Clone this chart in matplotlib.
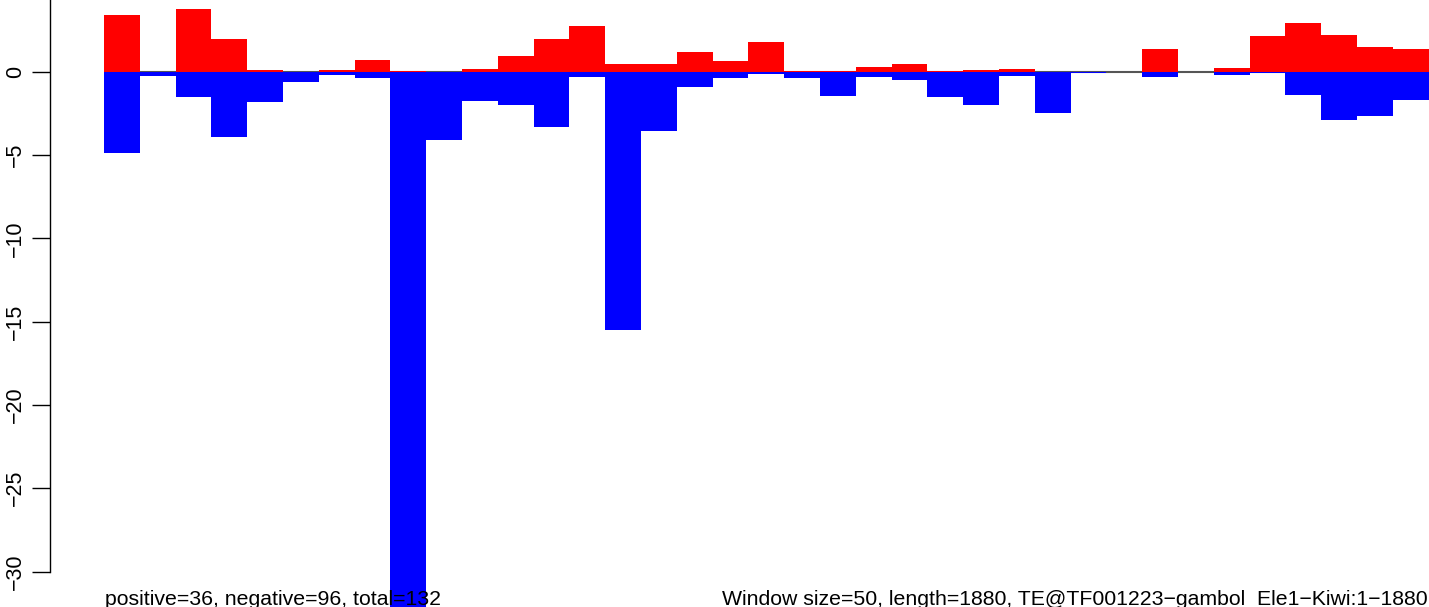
#%% imports

import numpy as np
import matplotlib.pyplot as plt

#%% data (per 50bp window)

windows = np.arange(37)
positive = [3.42, 0.0, 3.78, 1.98, 0.12, 0.0, 0.12, 0.72, 0.06, 0.0,
            0.18, 0.96, 1.98, 2.76, 0.48, 0.48, 1.20, 0.66, 1.80, 0.08,
            0.08, 0.30, 0.48, 0.08, 0.12, 0.18, 0.0, 0.0, 0.0, 1.38,
            0.0, 0.24, 2.16, 2.94, 2.22, 1.50, 1.38]
negative = [-4.86, -0.24, -1.50, -3.88, -1.78, -0.58, -0.16, -0.34, -33.0, -4.06,
            -1.72, -1.96, -3.28, -0.28, -15.5, -3.52, -0.88, -0.34, -0.10, -0.34,
            -1.42, -0.28, -0.46, -1.48, -1.96, -0.22, -2.44, -0.04, 0.0, -0.28,
            0.0, -0.16, -0.04, -1.36, -2.86, -2.62, -1.66]
yticks = [0, -5, -10, -15, -20, -25, -30]

left_text = "positive=36, negative=96, total=132"
right_text = "Window size=50, length=1880, TE@TF001223\u2212gambol  Ele1\u2212Kiwi:1\u22121880"

#%% plot

plt.rcParams['font.family'] = ['Liberation Sans', 'DejaVu Sans']
plt.rcParams['axes.unicode_minus'] = True

fig = plt.figure(figsize=(14.29, 6.07), dpi=100)
ax = fig.add_axes([50 / 1429, 0, 1 - 50 / 1429, 1])

ax.hlines(0, windows[0] - 0.5, windows[-1] + 0.5, color='#555555', lw=1.5, zorder=1)
ax.bar(windows, positive, width=1.0, color='red', zorder=2)
ax.bar(windows, negative, width=1.0, color='blue', zorder=2)

ax.set_xlim(-2.01, 36.51)
ax.set_ylim(-32.13, 4.32)

for s in ['top', 'right', 'bottom']:
    ax.spines[s].set_visible(False)
ax.spines['left'].set_bounds(-30, 4.32)
ax.spines['left'].set_linewidth(1.0)
ax.set_xticks([])
ax.set_yticks(yticks)
ax.set_yticklabels([str(v).replace('-', '\u2212') for v in yticks],
                   rotation=90, va='center', fontsize=15.5)
ax.tick_params(axis='y', length=13, width=1.0, pad=4.5)

fig.text(105 / 1429, 2 / 607, left_text, fontsize=15.3, ha='left', va='baseline', zorder=5)
fig.text(722 / 1429, 2 / 607, right_text, fontsize=15.3, ha='left', va='baseline', zorder=5)

fig.savefig('out.png', dpi=100)
